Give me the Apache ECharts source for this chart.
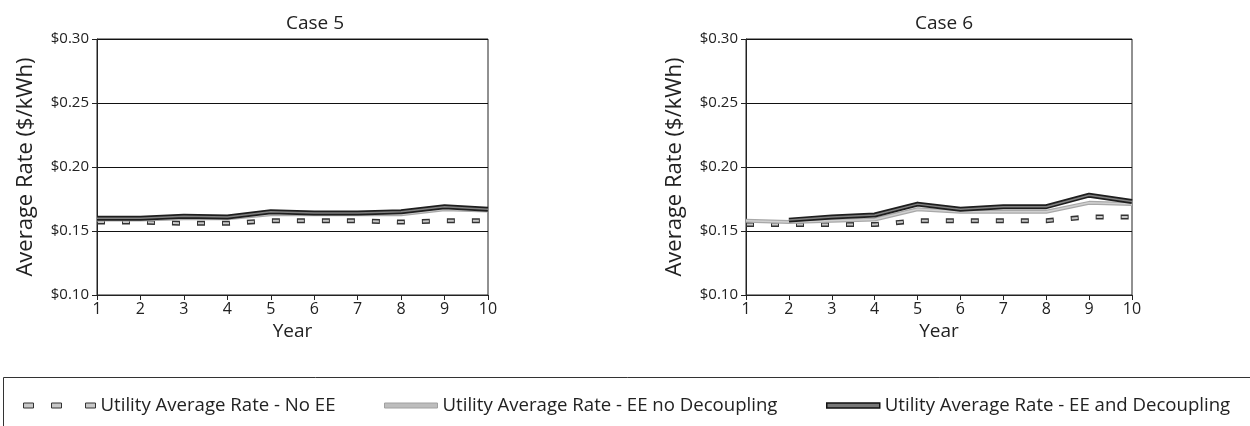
<!DOCTYPE html>
<html><head><meta charset="utf-8">
<script src="https://cdn.jsdelivr.net/npm/echarts@6/dist/echarts.min.js"></script>
<style>html,body{margin:0;padding:0;background:#fff}#c{width:1250px;height:426px}</style>
</head><body><div id="c"></div>
<script>
var years = [1,2,3,4,5,6,7,8,9,10];
var yTicks = ['$0.10','$0.15','$0.20','$0.25','$0.30'];
var case5NoEE = [0.157,0.157,0.156,0.156,0.158,0.158,0.158,0.157,0.158,0.158];
var case5NoDec = [0.159,0.159,0.160,0.160,0.163,0.163,0.163,0.163,0.167,0.166];
var case5Dec   = [0.160,0.160,0.1615,0.161,0.165,0.164,0.164,0.165,0.169,0.167];
var case6NoEE = [0.155,0.155,0.155,0.155,0.158,0.158,0.158,0.158,0.161,0.161];
var case6NoDec = [0.158,0.157,0.158,0.159,0.167,0.165,0.165,0.165,0.172,0.171];
var case6Dec   = [null,0.1585,0.161,0.1625,0.171,0.167,0.169,0.169,0.178,0.173];
var N1='Utility Average Rate - No EE', N2='Utility Average Rate - EE no Decoupling', N3='Utility Average Rate - EE and Decoupling';
var FONT='Open Sans';
function pairs(arr){return years.map(function(y,i){return [y, arr[i]==null?'-':arr[i]];});}
function xAx(idx){return {gridIndex:idx,type:'value',min:1,max:10,interval:1,name:'Year',nameLocation:'middle',nameGap:27,nameMoveOverlap:false,
  nameTextStyle:{fontFamily:FONT,fontSize:19,color:'#222'},
  axisLine:{show:true,lineStyle:{color:'#222',width:1}},axisTick:{show:true,length:5,lineStyle:{color:'#222'}},
  axisLabel:{fontFamily:FONT,fontSize:16,color:'#222',margin:6},splitLine:{show:false}};}
function yAx(idx){return {gridIndex:idx,type:'value',min:0.10,max:0.30,interval:0.05,name:'Average Rate ($/kWh)',nameLocation:'middle',nameGap:60,
  nameTextStyle:{fontFamily:FONT,fontSize:22,color:'#222'},
  axisLine:{show:true,lineStyle:{color:'#222',width:1}},axisTick:{show:true,length:5,lineStyle:{color:'#222'}},
  axisLabel:{fontFamily:FONT,fontSize:15,color:'#222',margin:8,formatter:function(v){var i=Math.round((v-0.10)/0.05);return yTicks[i];}},
  splitLine:{show:true,lineStyle:{color:'#111',width:1}}};}
function ser(name,idx,data,color,width,dash,offset,z){return {name:name,type:'line',xAxisIndex:idx,yAxisIndex:idx,data:pairs(data),symbol:'none',z:z,
  connectNulls:false,silent:true,itemStyle:{color:color},lineStyle:{color:color,width:width,type:dash||'solid',dashOffset:offset||0,cap:'butt',join:'round'}};}
function seriesFor(idx,noEE,noDec,dec){return [
  ser(N1,idx,noEE,'#333',5,[8,17],0,3),
  ser(N1,idx,noEE,'#c8c8c8',2,[6,19],-1,4),
  ser(N2,idx,noDec,'#a8a8a8',4,null,0,5),
  ser(N2,idx,noDec,'#d0d0d0',1.5,null,0,6),
  ser(N3,idx,dec,'#1e1e1e',5,null,0,7),
  ser(N3,idx,dec,'#808080',1.5,null,0,8)
];}
var legTxt={fontFamily:FONT,fontSize:18.6,color:'#222'};
var option={
  animation:false,
  title:[{text:'Case 5',left:310,top:9,textAlign:'center',textStyle:{fontFamily:FONT,fontSize:19,fontWeight:'normal',color:'#222'}},
         {text:'Case 6',left:939,top:9,textAlign:'center',textStyle:{fontFamily:FONT,fontSize:19,fontWeight:'normal',color:'#222'}}],
  grid:[{left:97,top:39,width:391,height:256,show:true,borderColor:'#222',borderWidth:1},
        {left:746,top:39,width:386,height:256,show:true,borderColor:'#222',borderWidth:1}],
  xAxis:[xAx(0),xAx(1)],
  yAxis:[yAx(0),yAx(1)],
  legend:[
    {data:[{name:N1,icon:'path://M0,0h10v5h-10z M28,0h10v5h-10z M62,0h10v5h-10z',itemStyle:{color:'#c8c8c8',borderColor:'#333',borderWidth:1}}],
      left:18,top:391,itemWidth:72,itemHeight:5,itemGap:5,textStyle:legTxt,selectedMode:false},
    {data:[{name:N2,icon:'rect',itemStyle:{color:'#bdbdbd',borderColor:'#a0a0a0',borderWidth:1}}],left:379,top:391,itemWidth:53,itemHeight:5,textStyle:legTxt,selectedMode:false},
    {data:[{name:N3,icon:'rect',itemStyle:{color:'#777',borderColor:'#111',borderWidth:1.5}}],left:821,top:391,itemWidth:53,itemHeight:5,textStyle:legTxt,selectedMode:false}
  ],
  graphic:[{type:'rect',shape:{x:3.5,y:377.5,width:1300,height:100},style:{fill:null,stroke:'#333',lineWidth:1},silent:true}],
  series:[].concat(seriesFor(0,case5NoEE,case5NoDec,case5Dec),seriesFor(1,case6NoEE,case6NoDec,case6Dec))
};
echarts.init(document.getElementById('c'),null,{renderer:'canvas'}).setOption(option);
</script></body></html>
